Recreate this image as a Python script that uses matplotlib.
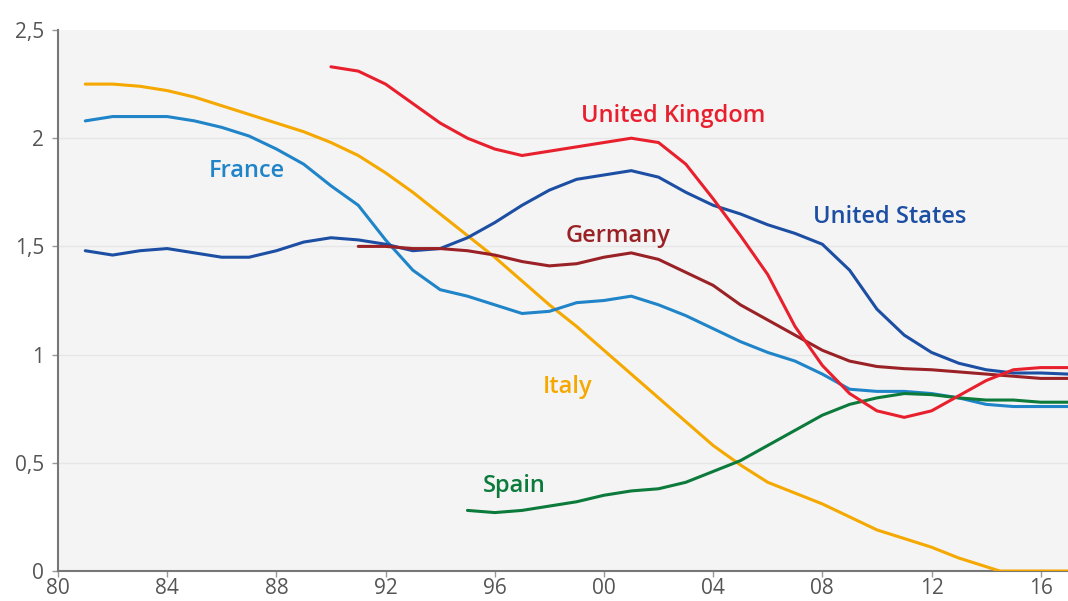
import matplotlib
matplotlib.use("Agg")
import matplotlib.pyplot as plt

# ---- data ----
italy_years = [1981, 1982, 1983, 1984, 1985, 1986, 1987, 1988, 1989, 1990, 1991, 1992, 1993, 1994, 1995,
               1996, 1997, 1998, 1999, 2000, 2001, 2002, 2003, 2004, 2005, 2006, 2007, 2008, 2009, 2010,
               2011, 2012, 2013, 2014, 2014.5, 2015, 2016, 2017]
italy = [2.25, 2.25, 2.24, 2.22, 2.19, 2.15, 2.11, 2.07, 2.03, 1.98, 1.92, 1.84, 1.75, 1.65, 1.55,
         1.45, 1.34, 1.23, 1.13, 1.02, 0.91, 0.80, 0.69, 0.58, 0.49, 0.41, 0.36, 0.31, 0.25, 0.19,
         0.15, 0.11, 0.06, 0.02, 0.0, 0.0, 0.0, 0.0]

france_years = list(range(1981, 2018))
france = [2.08, 2.10, 2.10, 2.10, 2.08, 2.05, 2.01, 1.95, 1.88, 1.78, 1.69, 1.53, 1.39, 1.30, 1.27,
          1.23, 1.19, 1.20, 1.24, 1.25, 1.27, 1.23, 1.18, 1.12, 1.06, 1.01, 0.97, 0.91, 0.84, 0.83,
          0.83, 0.82, 0.80, 0.77, 0.76, 0.76, 0.76]

us_years = list(range(1981, 2018))
us = [1.48, 1.46, 1.48, 1.49, 1.47, 1.45, 1.45, 1.48, 1.52, 1.54, 1.53, 1.51, 1.48, 1.49, 1.54,
      1.61, 1.69, 1.76, 1.81, 1.83, 1.85, 1.82, 1.75, 1.69, 1.65, 1.60, 1.56, 1.51, 1.39, 1.21,
      1.09, 1.01, 0.96, 0.93, 0.915, 0.915, 0.91]

uk_years = list(range(1990, 2018))
uk = [2.33, 2.31, 2.25, 2.16, 2.07, 2.00, 1.95, 1.92, 1.94, 1.96, 1.98, 2.00, 1.98, 1.88, 1.72,
      1.55, 1.37, 1.13, 0.95, 0.82, 0.74, 0.71, 0.74, 0.81, 0.88, 0.93, 0.94, 0.94]

germany_years = list(range(1991, 2018))
germany = [1.50, 1.50, 1.49, 1.49, 1.48, 1.46, 1.43, 1.41, 1.42, 1.45, 1.47, 1.44, 1.38, 1.32,
           1.23, 1.16, 1.09, 1.02, 0.97, 0.945, 0.935, 0.93, 0.92, 0.91, 0.90, 0.89, 0.89]

spain_years = list(range(1995, 2018))
spain = [0.28, 0.27, 0.28, 0.30, 0.32, 0.35, 0.37, 0.38, 0.41, 0.46, 0.51, 0.58, 0.65, 0.72,
         0.77, 0.80, 0.82, 0.815, 0.80, 0.79, 0.79, 0.78, 0.78]

x_ticks = [1980, 1984, 1988, 1992, 1996, 2000, 2004, 2008, 2012, 2016]
x_tick_labels = ["80", "84", "88", "92", "96", "00", "04", "08", "12", "16"]
y_ticks = [0, 0.5, 1, 1.5, 2, 2.5]
y_tick_labels = ["0", "0,5", "1", "1,5", "2", "2,5"]

# ---- styling ----
plt.rcParams['font.family'] = ['Open Sans', 'DejaVu Sans']
C_ITALY = "#f5a800"
C_FRANCE = "#1f84c8"
C_US = "#1c4fa3"
C_UK = "#e8202e"
C_GER = "#9a2226"
C_SPAIN = "#0b7a3b"

fig = plt.figure(figsize=(10.68, 6.01), dpi=100)
fig.patch.set_facecolor("white")
ax = fig.add_axes([58 / 1068, 30 / 601, 1010 / 1068, 541 / 601])
ax.set_facecolor("#f4f4f4")

lw = 2.2
ax.plot(italy_years, italy, color=C_ITALY, lw=lw, solid_capstyle="round", zorder=3)
ax.plot(france_years, france, color=C_FRANCE, lw=lw, solid_capstyle="round", zorder=3)
ax.plot(us_years, us, color=C_US, lw=lw, solid_capstyle="round", zorder=3)
ax.plot(germany_years, germany, color=C_GER, lw=lw, solid_capstyle="round", zorder=3)
ax.plot(spain_years, spain, color=C_SPAIN, lw=lw, solid_capstyle="round", zorder=3)
ax.plot(uk_years, uk, color=C_UK, lw=lw, solid_capstyle="round", zorder=4)

ax.set_xlim(1980, 2017)
ax.set_ylim(0, 2.5)
ax.set_xticks(x_ticks)
ax.set_xticklabels(x_tick_labels)
ax.set_yticks(y_ticks)
ax.set_yticklabels(y_tick_labels)
ax.tick_params(axis="both", colors="#999999", labelcolor="#555555", labelsize=15,
               length=4, width=1, direction="out")
ax.tick_params(axis="x", pad=1)
ax.tick_params(axis="y", pad=6)

for s in ["top", "right"]:
    ax.spines[s].set_visible(False)
for s in ["left", "bottom"]:
    ax.spines[s].set_color("#777777")
    ax.spines[s].set_linewidth(1.5)

for y in [0.5, 1, 1.5, 2]:
    ax.axhline(y, color="#e6e6e6", lw=1, zorder=1)

lab_kw = dict(fontsize=17, fontweight="semibold", ha="center", va="baseline", zorder=5)
ax.text(1986.9, 1.82, "France", color=C_FRANCE, **lab_kw)
ax.text(2002.55, 2.075, "United Kingdom", color=C_UK, **lab_kw)
ax.text(2000.5, 1.52, "Germany", color=C_GER, **lab_kw)
ax.text(2010.48, 1.608, "United States", color=C_US, **lab_kw)
ax.text(1998.66, 0.823, "Italy", color=C_ITALY, **lab_kw)
ax.text(1996.7, 0.365, "Spain", color=C_SPAIN, **lab_kw)

fig.savefig("out.png", dpi=100)
